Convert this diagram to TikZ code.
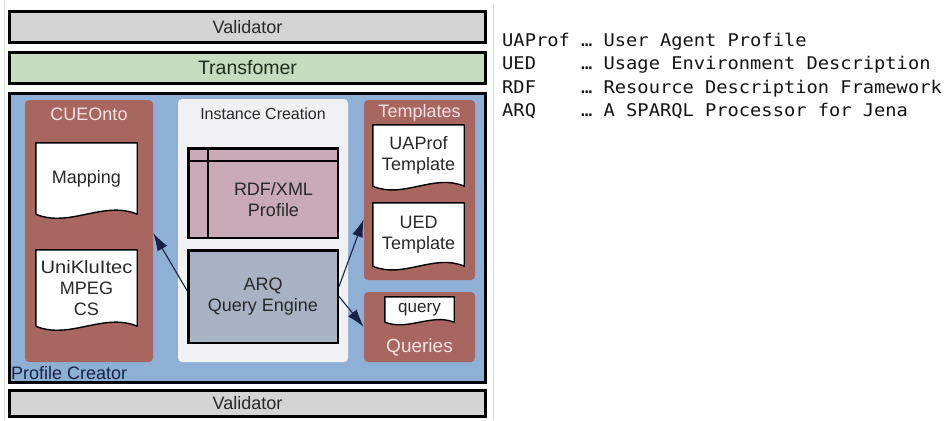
\documentclass[tikz,border=0pt]{standalone}
\usepackage{fontspec}
\usepackage{graphicx}
\setmainfont{Liberation Sans}
\newfontfamily\legendfont[FakeStretch=1.07]{DejaVu Sans Mono}
\usetikzlibrary{arrows.meta,calc}

\pgfdeclarelayer{boxes}
\pgfdeclarelayer{docs}
\pgfsetlayers{boxes,docs,main}

\definecolor{valgray}{RGB}{212,212,212}
\definecolor{transgreen}{RGB}{197,220,190}
\definecolor{pcblue}{RGB}{143,176,214}
\definecolor{brownbox}{RGB}{168,102,96}
\definecolor{instfill}{RGB}{241,241,243}
\definecolor{rdffill}{RGB}{201,170,182}
\definecolor{arqfill}{RGB}{169,178,196}
\definecolor{navy}{RGB}{24,34,70}
\definecolor{labelpink}{RGB}{248,226,226}
\definecolor{textdark}{RGB}{40,40,40}
\definecolor{greendark}{RGB}{30,46,30}

\newcommand\diagfont{\fontsize{18}{21}\selectfont}
% fixed-width column for the abbreviations of the legend
\newcommand\abbrcol[1]{\rlap{#1}\phantom{MMMMMMM}}

\tikzset{
  layerbox/.style={draw=black, line width=3.2pt, minimum width=476pt, inner sep=0pt,
    font=\diagfont, text=textdark},
  group/.style={fill=brownbox, rounded corners=4pt, inner sep=0pt},
  grouplabel/.style={font=\diagfont, text=labelpink, inner sep=0pt},
  doc/.style={align=center, inner sep=0pt, font=\diagfont, text=textdark},
  docshape/.style={fill=white, draw=black, line width=1.4pt, line join=round},
  tablebox/.style={draw=black, line width=2.5pt, inner sep=0pt, align=center,
    font=\diagfont, text=textdark},
  conn/.style={navy, line width=1.1pt, -{Latex[length=18pt,width=11pt]}},
  legend/.style={anchor=base west, inner sep=0pt,
    font=\legendfont\fontsize{17.5}{20}\selectfont, text=black!92},
}

\begin{document}
\begin{tikzpicture}[x=1pt,y=-1pt]
\useasboundingbox (0,0) rectangle (949,420);

\begin{pgfonlayer}{boxes}
  % frame of the architecture part
  \draw[gray!30, line width=1pt] (4,0) -- (4,420) (493,4) -- (493,420);

  % stacked layers
  \node[layerbox, fill=valgray, minimum height=31pt] (valtop) at (247.5,27) {Validator};
  \node[layerbox, fill=transgreen, minimum height=31pt, text=greendark,
        font=\fontsize{19.5}{22}\selectfont] (trans) at (247.5,68) {Transfomer};
  \node[layerbox, fill=pcblue, minimum height=289pt] (prof) at (247.5,238) {};
  \node[layerbox, fill=valgray, minimum height=26pt] (valbot) at (247.5,403.5) {Validator};

  % groups inside the profile creator
  \node[group, minimum width=128pt, minimum height=262pt] (cue) at (89,231) {};
  \node[group, minimum width=111pt, minimum height=180pt] (templ) at (419.5,190) {};
  \node[group, minimum width=111pt, minimum height=70pt] (queries) at (419.5,327) {};
  \node[fill=instfill, rounded corners=4pt, inner sep=0pt,
        minimum width=170pt, minimum height=263pt] (inst) at (263,230.5) {};
\end{pgfonlayer}

% group captions
\node[grouplabel] (cuelabel) at (89,114) {CUEOnto};
\node[grouplabel] (templlabel) at (419.5,113) {Templates};
\node[grouplabel, font=\fontsize{19}{22}\selectfont] (querieslabel) at (419.5,347) {Queries};
\node[font=\fontsize{16}{18}\selectfont, text=textdark, inner sep=0pt] (instlabel) at (263,114) {Instance Creation};
\node[font=\diagfont, text=navy, anchor=base west, inner sep=0pt] (proflabel) at (11,379) {Profile Creator};

% RDF/XML profile as a table
\node[tablebox, fill=rdffill, minimum width=149.5pt, minimum height=89.5pt] (rdf) at (263,193) {};
\coordinate (rdfsplit) at (208,161);
\draw[line width=2.5pt] (rdf.north -| rdfsplit) -- (rdf.south -| rdfsplit);
\draw[line width=2.5pt] (rdf.west |- rdfsplit) -- (rdf.east |- rdfsplit);
\node[doc] (rdftext) at (273.5,200) {RDF/XML\\Profile};

% query engine
\node[tablebox, fill=arqfill, minimum width=149.5pt, minimum height=92.5pt] (arq) at (263,296.5) {ARQ\\Query Engine};

% documents
\node[doc, minimum width=101pt, minimum height=71pt] (mapping) at (86.5,178.5) {Mapping};
\node[doc, minimum width=101pt, minimum height=76pt] (unik) at (86.5,288) {\scalebox{1.12}[1]{UniKluItec}\\MPEG\\CS};
\node[doc, minimum width=91pt, minimum height=61pt] (uaprof) at (418.5,155.5) {UAProf\\Template};
\node[doc, minimum width=91pt, minimum height=63pt] (ued) at (418.5,234.5) {UED\\Template};
\node[doc, minimum width=69pt, minimum height=25pt, font=\fontsize{17}{20}\selectfont] (query) at (419.5,309.5) {query};

\begin{pgfonlayer}{docs}
  \foreach \d/\a in {mapping/14, unik/14, uaprof/13, ued/13, query/9} {
    \path[docshape] (\d.north west) -- (\d.north east) -- (\d.south east)
      .. controls ($(\d.south east)!0.33!(\d.south west)+(0,-\a)$)
             and ($(\d.south east)!0.67!(\d.south west)+(0,\a)$) .. (\d.south west)
      -- cycle;
  }
\end{pgfonlayer}

% connectors from the query engine
\draw[conn] ([yshift=6pt]arq.west) -- ([yshift=-2pt]cue.east);
\draw[conn] ([yshift=10pt]arq.east) -- ([yshift=-29pt]templ.west);
\draw[conn] (arq.east) -- (queries.west);

% legend
\node[legend] (lg1) at (502,47) {\abbrcol{UAProf}… User Agent Profile};
\node[legend] (lg2) at (502,70) {\abbrcol{UED}… Usage Environment Description};
\node[legend] (lg3) at (502,93) {\abbrcol{RDF}… Resource Description Framework};
\node[legend] (lg4) at (502,116) {\abbrcol{ARQ}… A SPARQL Processor for Jena};
\end{tikzpicture}
\end{document}
